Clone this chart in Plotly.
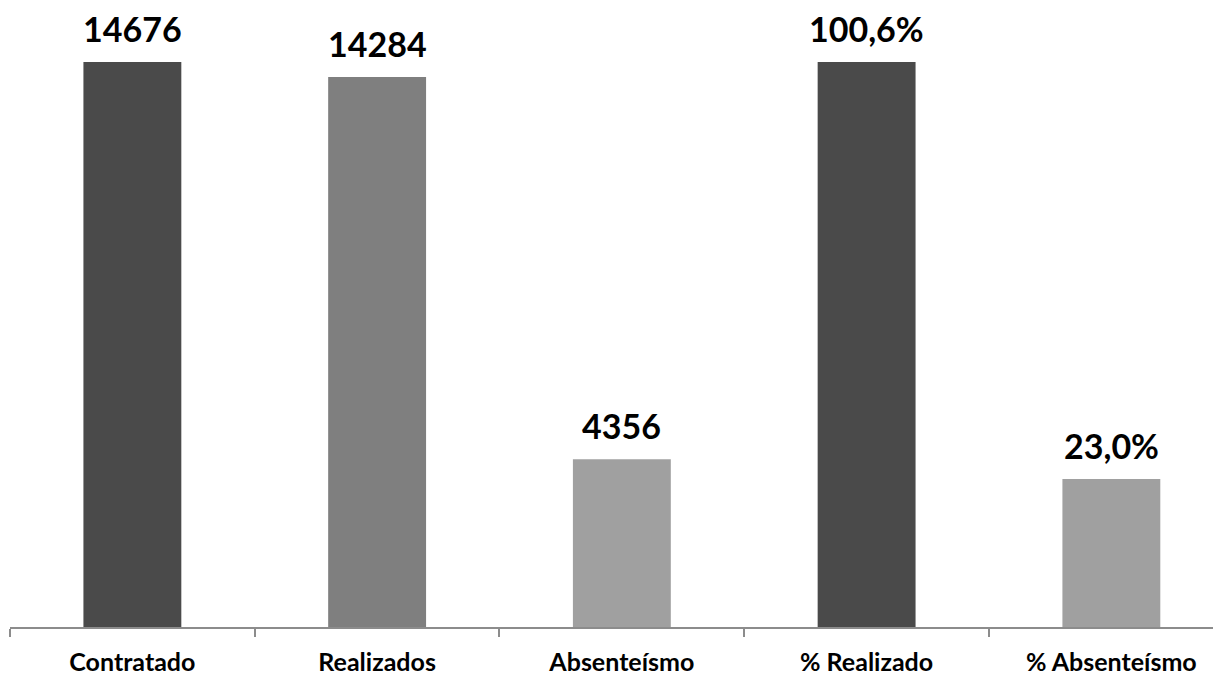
import plotly.graph_objects as go

# categories and values
count_cats = ['Contratado', 'Realizados', 'Absenteísmo']
count_vals = [14676, 14284, 4356]
count_colors = ['#4a4a4a', '#7f7f7f', '#a0a0a0']

pct_cats = ['% Realizado', '% Absenteísmo']
pct_vals = [100.6, 23.0]
pct_colors = ['#4a4a4a', '#a0a0a0']

# secondary axis in the original does not start at zero
PCT_MIN = -4.54
PCT_MAX = 110.65

label_font = dict(family='Lato', size=34, color='black', weight='bold')

fig = go.Figure()

fig.add_trace(go.Bar(
    x=count_cats, y=count_vals,
    marker=dict(color=count_colors, line=dict(width=0)),
    width=0.4,
    hovertemplate='%{x}: %{y}<extra></extra>',
))

fig.add_trace(go.Bar(
    x=pct_cats, y=[v - PCT_MIN for v in pct_vals],
    base=PCT_MIN,
    yaxis='y2',
    marker=dict(color=pct_colors, line=dict(width=0)),
    width=0.4,
    customdata=pct_vals,
    hovertemplate='%{x}: %{customdata:.1f}%<extra></extra>',
))

# value labels above the bars
for c, v in zip(count_cats, count_vals):
    fig.add_annotation(x=c, y=v, xref='x', yref='y', text=str(v),
                       showarrow=False, yanchor='bottom', yshift=11,
                       font=label_font)
for c, v in zip(pct_cats, pct_vals):
    fig.add_annotation(x=c, y=v, xref='x', yref='y2',
                       text=f'{v:.1f}%'.replace('.', ','),
                       showarrow=False, yanchor='bottom', yshift=11,
                       font=label_font)

fig.update_layout(
    barmode='overlay',
    showlegend=False,
    width=1213, height=672,
    margin=dict(l=2, r=0, t=0, b=53),
    plot_bgcolor='white',
    paper_bgcolor='white',
    font=dict(family='Lato'),
    xaxis=dict(
        categoryorder='array',
        categoryarray=count_cats + pct_cats,
        range=[-0.5, 4.448],
        automargin=False,
        showline=True, linecolor='#8c8c8c', linewidth=2,
        ticks='outside', tickson='boundaries', ticklen=8,
        tickcolor='#8c8c8c', tickwidth=1.5,
        tickfont=dict(family='Lato', size=25, color='black', weight='bold'),
        ticklabelstandoff=12,
        showgrid=False, zeroline=False,
    ),
    yaxis=dict(range=[0, 16079], visible=False, showgrid=False),
    yaxis2=dict(range=[PCT_MIN, PCT_MAX], overlaying='y', visible=False,
                showgrid=False),
)

fig.write_html('out.html')
